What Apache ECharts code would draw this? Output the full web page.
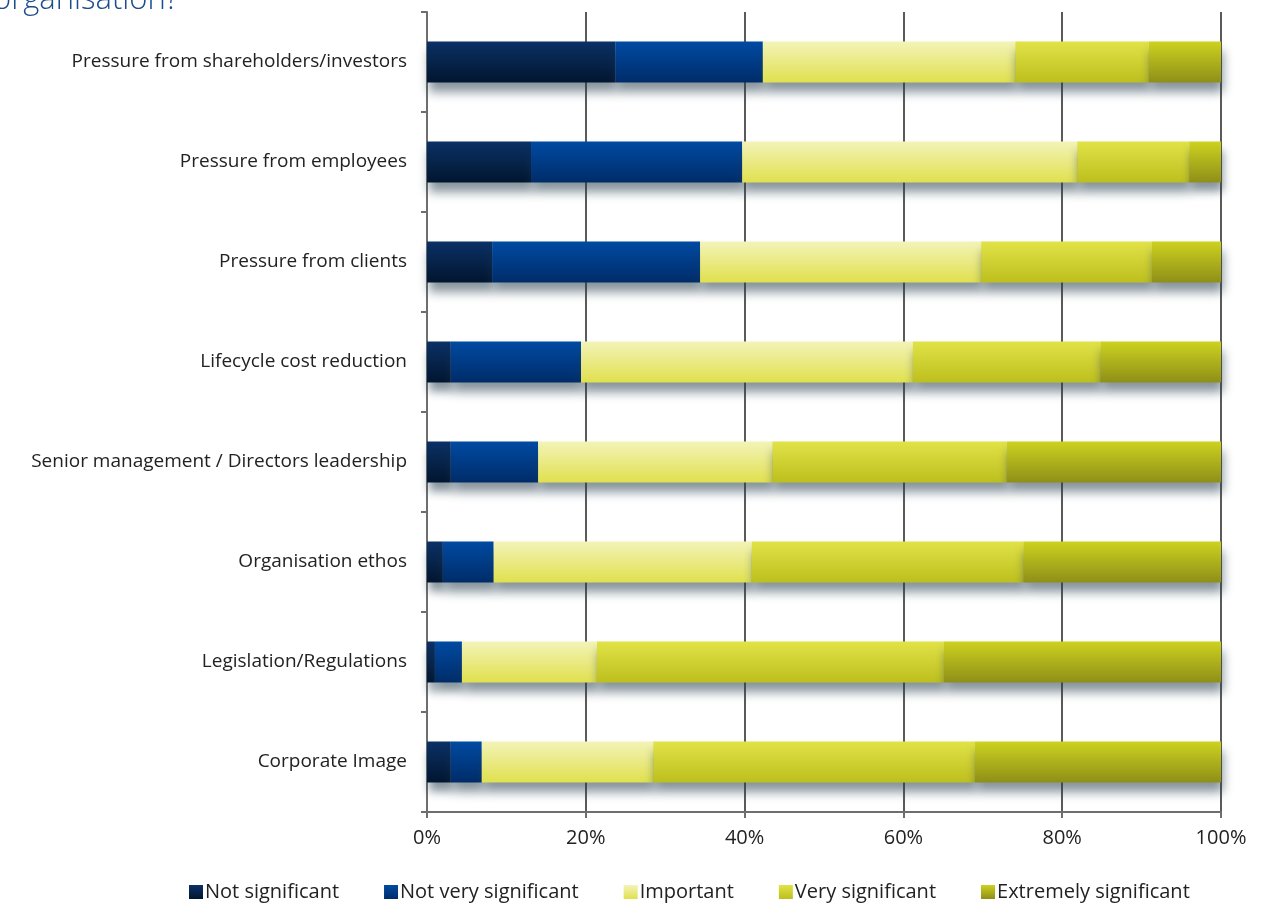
<!DOCTYPE html>
<html>
<head>
<meta charset="utf-8">
<script src="https://cdn.jsdelivr.net/npm/echarts@6/dist/echarts.min.js"></script>
<style>
  html, body { margin: 0; padding: 0; background: #ffffff; }
  #chart { width: 1261px; height: 904px; }
</style>
</head>
<body>
<div id="chart"></div>
<script>
// Drivers, listed top to bottom
const categories = [
  'Pressure from shareholders/investors',
  'Pressure from employees',
  'Pressure from clients',
  'Lifecycle cost reduction',
  'Senior management / Directors leadership',
  'Organisation ethos',
  'Legislation/Regulations',
  'Corporate Image'
];

// Share of respondents (%) per rating
const notSignificant      = [23.7, 13.1,  8.2,  3.0,  3.0,  2.0,  1.0,  3.0];
const notVerySignificant  = [18.6, 26.6, 26.2, 16.4, 11.0,  6.4,  3.4,  3.9];
const important           = [31.8, 42.2, 35.4, 41.8, 29.5, 32.5, 17.0, 21.6];
const verySignificant     = [16.8, 14.1, 21.5, 23.6, 29.5, 34.2, 43.7, 40.5];
const extremelySignificant= [ 9.1,  4.0,  8.7, 15.2, 27.0, 24.9, 34.9, 31.0];

const tickLabels = ['0%', '20%', '40%', '60%', '80%', '100%'];

const seriesDefs = [
  { name: 'Not significant',       data: notSignificant,       top: '#0b3166', bottom: '#01152f' },
  { name: 'Not very significant',  data: notVerySignificant,   top: '#004aa3', bottom: '#002c68' },
  { name: 'Important',             data: important,            top: '#f3f4b8', bottom: '#e0e04e' },
  { name: 'Very significant',      data: verySignificant,      top: '#e1e247', bottom: '#bdbf1e' },
  { name: 'Extremely significant', data: extremelySignificant, top: '#cdd21f', bottom: '#8e8f18' }
];

const fontFamily = '"Open Sans", "Noto Sans", sans-serif';

const chart = echarts.init(document.getElementById('chart'), null, { renderer: 'canvas' });

chart.setOption({
  animation: false,
  backgroundColor: '#ffffff',
  graphic: [{
    type: 'text',
    left: -7,
    top: -15,
    style: {
      text: 'organisation?',
      fill: '#1d4c8c',
      font: '300 31px ' + fontFamily
    }
  }],
  grid: { left: 427, right: 40, top: 12, bottom: 92, containLabel: false },
  legend: {
    left: 184,
    top: 877,
    itemWidth: 14,
    itemHeight: 14,
    itemGap: 45,
    icon: 'rect',
    textStyle: { fontSize: 20, color: '#222', fontFamily: fontFamily, padding: [0, 0, 0, -3] },
    data: seriesDefs.map(s => s.name)
  },
  xAxis: {
    type: 'value',
    min: 0,
    max: 100,
    interval: 20,
    axisLine: { show: true, lineStyle: { color: '#6e6e6e', width: 2 } },
    axisTick: { show: true, length: 6, lineStyle: { color: '#6e6e6e', width: 2 } },
    axisLabel: {
      color: '#222',
      fontSize: 20,
      fontFamily: fontFamily,
      margin: 16,
      formatter: v => tickLabels[Math.round(v / 20)]
    },
    splitLine: { show: true, lineStyle: { color: '#5a5a5a', width: 2 } }
  },
  yAxis: {
    type: 'category',
    data: categories,
    inverse: true,
    axisLine: { show: true, lineStyle: { color: '#6e6e6e', width: 2 } },
    axisTick: { show: true, length: 6, alignWithLabel: false, lineStyle: { color: '#6e6e6e', width: 2 } },
    axisLabel: { color: '#222', fontSize: 19, fontFamily: fontFamily, margin: 20 }
  },
  series: seriesDefs.map(s => ({
    name: s.name,
    type: 'bar',
    stack: 'total',
    barWidth: 41,
    data: s.data,
    itemStyle: {
      color: new echarts.graphic.LinearGradient(0, 0, 0, 1, [
        { offset: 0, color: s.top },
        { offset: 1, color: s.bottom }
      ]),
      shadowColor: 'rgba(35, 60, 75, 0.55)',
      shadowBlur: 10,
      shadowOffsetX: 2,
      shadowOffsetY: 9
    }
  }))
});
</script>
</body>
</html>
